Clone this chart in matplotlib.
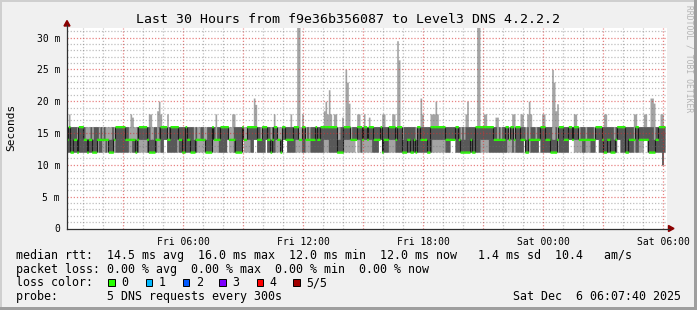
import numpy as np
import pandas as pd
import matplotlib
matplotlib.use("Agg")
import matplotlib.pyplot as plt
import matplotlib.dates as mdates
from matplotlib.patches import Rectangle, Polygon

W, H = 697, 310
MONO = "DejaVu Sans Mono"

# smokeping: 5 DNS pings every 300 s, sorted low -> high.
# one digit per 5 min step (value = 10 + digit, in ms), one group per clock hour
first_step = "2025-12-05 00:10"
ping1 = """2222222222 222222222222 222222222222 222222222222 222222222222
442222222222 222222222222 222222222222 224222222224 222222442222
242222222224 442222222222 222222222222 222222222222 222222242222
222222222442 222222222222 222222222222 222222222222 222244422222
222222222222 222222222222 222222222222 422222222422 222222222222
222444222222 222222244222 222222224422 222222222222 442222222220 2"""
ping2 = """2222222222 222222224224 424222422222 222442222444 442222224422
442222224222 222222224444 422224444222 224444222224 444422442222
242222244424 442222244442 244422222222 444222222222 444444444424
444442222442 222444422222 222222222222 222224444444 422244422222
222222222244 444222222222 224442422222 422422222422 222222224222
222444444442 244422244222 222222224422 222222422444 444222222220 2"""
ping3 = """4622442666 442442224444 444222466666 644444424666 664222244466
664466666442 264422244444 422226444466 666444422226 446666664446
664424664426 644444666446 644444464466 666666662222 666644446664
664666444462 444666646662 224422426644 442266666666 644444466422
222242266666 666666444444 466466466644 422444444466 644422224666
444664666444 444444466664 224422246666 622444466444 444222244666 6"""
ping4 = """6666664666 644464666464 644446466666 666444446666 666644664666
664666666666 666666464466 446666646666 666444666666 446666666646
666646664446 666666666446 646466666666 666666664466 666646666664
664666666666 666666666664 666666646666 666666666666 666666666646
466666666666 666666664646 666466466666 646466646666 666664464666
666666666466 646666466666 666666466666 666666466666 666666466666 6"""

# highest ping: 16 ms except for these slow steps
ping5_base = 16.0
spike_times = ["12-05 00:15", "12-05 03:20", "12-05 03:25", "12-05 04:15", "12-05 04:20",
               "12-05 04:40", "12-05 04:45", "12-05 04:50", "12-05 05:10", "12-05 07:35",
               "12-05 08:25", "12-05 08:30", "12-05 09:30", "12-05 09:35", "12-05 10:30",
               "12-05 11:20", "12-05 11:40", "12-05 11:45", "12-05 11:55", "12-05 13:00",
               "12-05 13:05", "12-05 13:10", "12-05 13:15", "12-05 13:20", "12-05 13:30",
               "12-05 13:35", "12-05 13:55", "12-05 14:05", "12-05 14:10", "12-05 14:15",
               "12-05 14:40", "12-05 14:45", "12-05 15:00", "12-05 15:15", "12-05 15:55",
               "12-05 16:00", "12-05 16:25", "12-05 16:30", "12-05 16:40", "12-05 16:45",
               "12-05 17:50", "12-05 17:55", "12-05 18:20", "12-05 18:25", "12-05 18:30",
               "12-05 18:35", "12-05 18:40", "12-05 20:05", "12-05 20:10", "12-05 20:40",
               "12-05 20:45", "12-05 21:00", "12-05 21:05", "12-05 21:35", "12-05 21:40",
               "12-05 22:25", "12-05 22:30", "12-05 22:50", "12-05 22:55", "12-05 23:10",
               "12-05 23:15", "12-05 23:20", "12-05 23:55", "12-06 00:00", "12-06 00:25",
               "12-06 00:30", "12-06 00:35", "12-06 00:40", "12-06 01:30", "12-06 01:35",
               "12-06 03:00", "12-06 03:05", "12-06 04:30", "12-06 04:35", "12-06 05:00",
               "12-06 05:05", "12-06 05:20", "12-06 05:25", "12-06 05:30", "12-06 05:50",
               "12-06 05:55"]
spike_ms = [18, 18, 17.5, 18, 18,
            18.5, 20, 18, 18, 18,
            18, 18, 20.5, 19.5, 18,
            18, 33, 33, 18, 18.5,
            20, 18, 21.8, 18, 18,
            18, 17.5, 25, 23, 19.7,
            18, 18, 18, 17.5, 18,
            18, 18, 18, 29.5, 26.5,
            20.5, 18, 18, 18, 18,
            20, 18, 18, 20, 33,
            33, 18, 18, 17.5, 17.5,
            18, 18, 18, 18, 18,
            20, 18, 18, 18, 25,
            23, 18.5, 19.6, 18, 18,
            18, 18, 18, 18, 18,
            18, 20.5, 20.5, 19.7, 18,
            18]

ytick_values = [0, 5, 10, 15, 20, 25, 30]
ytick_labels = ["0", "5 m", "10 m", "15 m", "20 m", "25 m", "30 m"]

loss_labels = ["0", "1", "2", "3", "4", "5/5"]
loss_colors = ["#26ff00", "#00b8ff", "#0059ff", "#7e00ff", "#ff0000", "#a10000"]

stats_lines = [
    "median rtt:  14.5 ms avg  16.0 ms max  12.0 ms min  12.0 ms now   1.4 ms sd  10.4   am/s",
    "packet loss: 0.00 % avg  0.00 % max  0.00 % min  0.00 % now",
    "loss color:",
    "probe:       5 DNS requests every 300s",
]
stamp = "Sat Dec  6 06:07:40 2025"
title = "Last 30 Hours from f9e36b356087 to Level3 DNS 4.2.2.2"


def levels(s):
    return np.array([10 + int(c) for c in "".join(s.split())], dtype=float)


p1, p2, p3, p4 = levels(ping1), levels(ping2), levels(ping3), levels(ping4)
n = len(p3)
p5 = np.full(n, ping5_base)
t0 = pd.Timestamp(first_step)
idx = (pd.to_datetime(["2025-" + s for s in spike_times]) - t0) // pd.Timedelta("5min")
p5[np.asarray(idx)] = spike_ms

steps = mdates.date2num(pd.date_range(t0, periods=n + 1, freq="5min"))


def ext(a):
    return np.append(a, a[-1])


def fx(x):
    return x / W


def fy(y):
    return 1 - y / H


fig = plt.figure(figsize=(W / 100, H / 100), dpi=100)
fig.patch.set_facecolor("#f0f0f0")

ax = fig.add_axes([fx(67), fy(228.5), 600 / W, 200.5 / H])
ax.set_facecolor("white")
for s in ax.spines.values():
    s.set_visible(False)

# smoke: outer pair light, inner pair dark, median as a thin band in loss colour
ax.fill_between(steps, ext(p1), ext(p5), step="post", color="#a4a4a4", lw=0, zorder=1)
ax.fill_between(steps, ext(p2), ext(p4), step="post", color="#585858", lw=0, zorder=2)
# dark edges where the median jumps between levels
jump = np.nonzero(np.diff(p3))[0] + 1
ax.vlines(steps[jump], np.minimum(p3[jump - 1], p3[jump]), np.maximum(p3[jump - 1], p3[jump]),
          color="#1c1c1c", lw=0.8, zorder=2.5)
half = 0.18
ax.fill_between(steps, ext(p3 - half), ext(p3 + half), step="post", color=loss_colors[0], lw=0, zorder=3)

x_start = mdates.date2num(pd.Timestamp("2025-12-05 00:11"))
x_end = mdates.date2num(pd.Timestamp("2025-12-06 06:11"))
ax.set_xlim(x_start, x_end)
ax.set_ylim(0, 31.5)

# rrdtool style dotted grid on top of the data, semi transparent
for h in pd.date_range("2025-12-05 01:00", "2025-12-06 06:00", freq="1h"):
    major = h.hour % 3 == 0
    ax.axvline(mdates.date2num(h), color="#d83030" if major else "#707070",
               alpha=0.6 if major else 0.45, lw=0.9, ls=(0, (1, 1.5)), zorder=4)
for v in range(1, 32):
    major = v % 5 == 0
    ax.axhline(v, color="#d83030" if major else "#707070",
               alpha=0.6 if major else 0.45, lw=0.9, ls=(0, (1, 1.5)), zorder=4)

ax.set_xticks(mdates.date2num(pd.date_range("2025-12-05 06:00", periods=5, freq="6h")))
ax.xaxis.set_major_formatter(mdates.DateFormatter("%a %H:%M"))
ax.set_yticks(ytick_values)
ax.set_yticklabels(ytick_labels)
ax.tick_params(length=0, labelsize=7)
ax.tick_params(axis="x", pad=6)
ax.tick_params(axis="y", pad=5)
for lab in ax.get_xticklabels() + ax.get_yticklabels():
    lab.set_family(MONO)

# axes with arrow heads
fig.add_artist(plt.Line2D([fx(67), fx(669)], [fy(228.5), fy(228.5)], color="#303030", lw=0.9))
fig.add_artist(plt.Line2D([fx(67), fx(67)], [fy(228.5), fy(25)], color="#303030", lw=0.9))
fig.add_artist(Polygon([(fx(64), fy(26)), (fx(70), fy(26)), (fx(67), fy(20.5))],
                       closed=True, color="#8b0000", transform=fig.transFigure))
fig.add_artist(Polygon([(fx(668.5), fy(225.5)), (fx(668.5), fy(231.5)), (fx(674), fy(228.5))],
                       closed=True, color="#8b0000", transform=fig.transFigure))

# texts
fig.text(fx(348), fy(19.5), title, family=MONO, fontsize=9.5, ha="center", va="center")
fig.text(fx(11), fy(127.5), "Seconds", family=MONO, fontsize=8, rotation=90, ha="center", va="center")
fig.text(fx(689), fy(5), "RRDTOOL / TOBI OETIKER", family=MONO, fontsize=5.8,
         rotation=270, ha="center", va="top", color="#b4b4b4")

baselines = [258.5, 272.5, 286.5, 300]
for line, yb in zip(stats_lines, baselines):
    fig.text(fx(16), fy(yb), line, family=MONO, fontsize=8.4, ha="left", va="baseline")
fig.text(fx(681), fy(300), stamp, family=MONO, fontsize=8.4, ha="right", va="baseline")

box_left = [108.3, 145.7, 182.7, 219.3, 256.7, 293.3]
for bx, lab, col in zip(box_left, loss_labels, loss_colors):
    fig.add_artist(Rectangle((fx(bx), fy(286)), 6.7 / W, 6.7 / H, facecolor=col,
                             edgecolor="black", lw=0.7, transform=fig.transFigure))
    fig.text(fx(bx + 13), fy(286.5), lab, family=MONO, fontsize=8.4, ha="left", va="baseline")

# 3d frame around the image
fig.add_artist(Rectangle((0, fy(2)), 1, 2 / H, facecolor="#cfcfcf", lw=0, transform=fig.transFigure))
fig.add_artist(Rectangle((0, 0), 2 / W, 1, facecolor="#cfcfcf", lw=0, transform=fig.transFigure))
fig.add_artist(Rectangle((fx(694), 0), 3 / W, 1, facecolor="#9e9e9e", lw=0, transform=fig.transFigure))
fig.add_artist(Rectangle((0, 0), 1, 3 / H, facecolor="#9e9e9e", lw=0, transform=fig.transFigure))

fig.savefig("out.png", dpi=100, facecolor=fig.get_facecolor())
